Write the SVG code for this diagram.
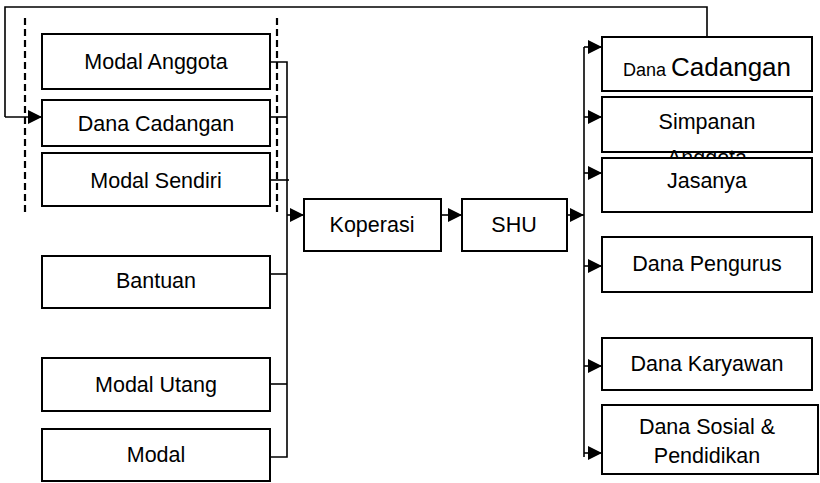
<svg xmlns="http://www.w3.org/2000/svg" width="820" height="483" viewBox="0 0 820 483">
<defs>
<style>
.box{fill:#fff;stroke:#000;stroke-width:2}
.t{font-family:"Liberation Sans",Arial,sans-serif;font-size:21.5px;fill:#000;text-anchor:middle}
.ln{fill:none;stroke:#000;stroke-width:1.6}
.dash{fill:none;stroke:#000;stroke-width:2.2;stroke-dasharray:7,4}
</style>
<marker id="ah" viewBox="0 0 14 14" refX="14" refY="7" markerWidth="14" markerHeight="14" markerUnits="userSpaceOnUse" orient="auto">
<path d="M0,0 L14,7 L0,14 Z" fill="#000"/>
</marker>
</defs>
<rect width="820" height="483" fill="#fff"/>
<g id="connectors">
<path class="ln" d="M707,37 V7 H5 V117"/>
<path class="ln" d="M5,117 H42" stroke-width="3" marker-end="url(#ah)"/>
<path class="ln" d="M270,62 H287 V457 H270"/>
<path class="ln" d="M270,117 H287"/>
<path class="ln" d="M270,180 H289"/>
<path class="ln" d="M270,274 H287"/>
<path class="ln" d="M270,384 H287"/>
<path class="ln" d="M287,215 H304" marker-end="url(#ah)"/>
<path class="ln" d="M441,215 H462" marker-end="url(#ah)"/>
<path class="ln" d="M567,215 H584" marker-end="url(#ah)"/>
<path class="ln" d="M584,47 V457"/>
<path class="ln" d="M584,47 H602" marker-end="url(#ah)"/>
<path class="ln" d="M584,117 H602" marker-end="url(#ah)"/>
<path class="ln" d="M584,173 H602" marker-end="url(#ah)"/>
<path class="ln" d="M584,266 H602" marker-end="url(#ah)"/>
<path class="ln" d="M584,366 H602" marker-end="url(#ah)"/>
<path class="ln" d="M584,453 H602" marker-end="url(#ah)"/>
<path class="dash" d="M25,18 V212"/>
<path class="dash" d="M277,18 V212"/>
</g>
<g id="modal-anggota"><rect class="box" x="42" y="34" width="228" height="55"/><text class="t" x="156" y="69">Modal Anggota</text></g>
<g id="dana-cadangan-l"><rect class="box" x="42" y="100" width="228" height="46"/><text class="t" x="156" y="131">Dana Cadangan</text></g>
<g id="modal-sendiri"><rect class="box" x="42" y="153" width="228" height="53"/><text class="t" x="156" y="188">Modal Sendiri</text></g>
<g id="bantuan"><rect class="box" x="42" y="256" width="228" height="52"/><text class="t" x="156" y="288">Bantuan</text></g>
<g id="modal-utang"><rect class="box" x="42" y="358" width="228" height="53"/><text class="t" x="156" y="392">Modal Utang</text></g>
<g id="modal"><rect class="box" x="42" y="429" width="228" height="52"/><text class="t" x="156" y="462">Modal</text></g>
<g id="koperasi"><rect class="box" x="304" y="199" width="137" height="52"/><text class="t" x="372" y="232">Koperasi</text></g>
<g id="shu"><rect class="box" x="462" y="199" width="105" height="52"/><text class="t" x="514" y="232">SHU</text></g>
<g id="dana-cadangan-r"><rect class="box" x="602" y="37" width="210" height="54"/><text class="t" x="707" y="76"><tspan font-size="18">Dana </tspan><tspan font-size="26">Cadangan</tspan></text></g>
<g id="simpanan-anggota"><rect class="box" x="602" y="97" width="210" height="55"/><text class="t" x="707" y="129">Simpanan</text><text class="t" x="707" y="165">Anggota</text></g>
<g id="jasanya"><rect class="box" x="602" y="158" width="210" height="54"/><text class="t" x="707" y="188">Jasanya</text></g>
<g id="dana-pengurus"><rect class="box" x="602" y="237" width="210" height="55"/><text class="t" x="707" y="271">Dana Pengurus</text></g>
<g id="dana-karyawan"><rect class="box" x="602" y="338" width="210" height="52"/><text class="t" x="707" y="371">Dana Karyawan</text></g>
<g id="dana-sosial"><rect class="box" x="602" y="405" width="216" height="69"/><text class="t" x="707" y="434">Dana Sosial &amp;</text><text class="t" x="707" y="463">Pendidikan</text></g>
</svg>
